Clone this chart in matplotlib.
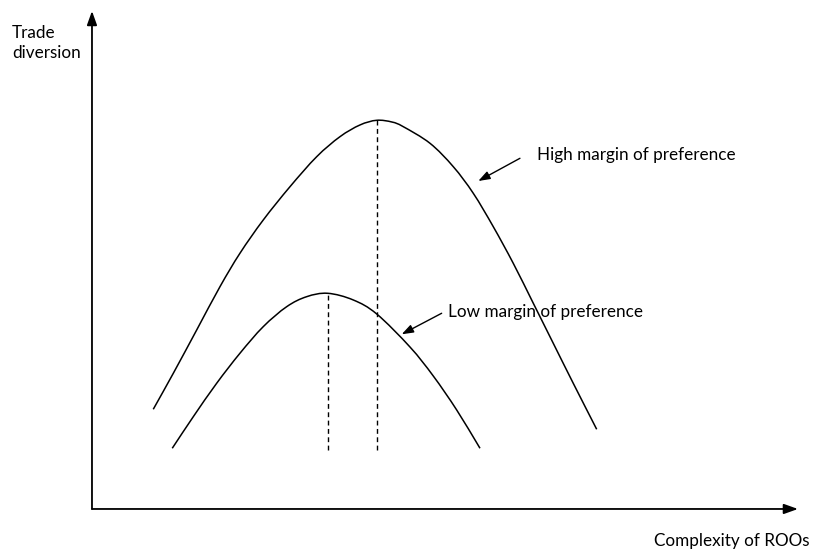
"""Schematic: trade diversion vs complexity of rules of origin."""

import numpy as np
import matplotlib
matplotlib.use("Agg")
import matplotlib.pyplot as plt
from matplotlib.path import Path
from matplotlib.patches import PathPatch

FONT = ["Lato", "DejaVu Sans"]
FS = 12.3

# high margin of preference curve (arbitrary units)
high_x = [0.868, 1.152, 1.483, 1.813, 2.096, 2.426, 2.805, 3.183, 3.513, 3.796,
          4.033, 4.25, 4.409, 4.788, 5.118, 5.401, 5.684, 5.967, 6.251, 6.534, 6.817, 7.149]
high_y = [2.002, 2.725, 3.594, 4.464, 5.135, 5.803, 6.472, 7.074, 7.476, 7.711,
          7.805, 7.77, 7.677, 7.343, 6.873, 6.339, 5.669, 4.934, 4.131, 3.327, 2.524, 1.600]

# low margin of preference curve
low_x = [1.137, 1.435, 1.766, 2.096, 2.426, 2.758, 3.041, 3.339, 3.701, 4.033,
         4.504, 4.834, 5.166, 5.496]
low_y = [1.219, 1.853, 2.524, 3.127, 3.661, 4.062, 4.263, 4.331, 4.197, 3.916,
         3.253, 2.671, 1.988, 1.219]

# dashed drop lines from each peak
peak_x = [3.339, 4.033]
peak_top = [4.331, 7.805]
drop_bottom = 1.185

labels = ["High margin of preference", "Low margin of preference"]
label_pos = [(6.303, 7.108), (5.047, 3.956)]
arrow_tail = [(6.062, 7.042), (4.953, 3.930)]
arrow_head = [(5.472, 6.586), (4.387, 3.508)]


def smooth_path(xs, ys):
    """Catmull-Rom curve through the given points, as cubic bezier segments."""
    pts = np.column_stack([xs, ys])
    ext = np.vstack([2 * pts[0] - pts[1], pts, 2 * pts[-1] - pts[-2]])
    verts = [pts[0]]
    codes = [Path.MOVETO]
    for i in range(1, len(ext) - 2):
        p0, p1, p2, p3 = ext[i - 1], ext[i], ext[i + 1], ext[i + 2]
        verts += [p1 + (p2 - p0) / 6, p2 - (p3 - p1) / 6, p2]
        codes += [Path.CURVE4] * 3
    return Path(verts, codes)


fig = plt.figure(figsize=(8.14, 5.49), dpi=100)
ax = fig.add_axes([0.1130, 0.0729, 0.8673, 0.9071])
ax.set_xlim(0, 10)
ax.set_ylim(0, 10)
ax.axis("off")

for xs, ys in [(high_x, high_y), (low_x, low_y)]:
    ax.add_patch(PathPatch(smooth_path(xs, ys), fill=False, edgecolor="black", lw=1.1))
for px, top in zip(peak_x, peak_top):
    ax.plot([px, px], [drop_bottom, top], color="black", lw=1.0, dashes=(3.5, 2.5))

arrow = dict(arrowstyle="-|>,head_length=0.7,head_width=0.25", color="black",
             lw=1.0, shrinkA=0, shrinkB=0, mutation_scale=10)
for text, pos, tail, head in zip(labels, label_pos, arrow_tail, arrow_head):
    ax.annotate("", xy=head, xytext=tail, arrowprops=arrow)
    ax.text(pos[0], pos[1], text, ha="left", va="center", fontsize=FS, family=FONT)

# axes with arrowheads
axis_arrow = dict(arrow, lw=1.3, mutation_scale=12)
ax.annotate("", xy=(0, 1), xytext=(0, 0), xycoords="axes fraction", arrowprops=axis_arrow)
ax.annotate("", xy=(1, 0), xytext=(0, 0), xycoords="axes fraction", arrowprops=axis_arrow)

fig.text(12 / 814, 1 - 43 / 549, "Trade\ndiversion", ha="left", va="center",
         fontsize=FS, family=FONT, linespacing=1.35)
fig.text(810 / 814, 1 - 541 / 549, "Complexity of ROOs", ha="right", va="center",
         fontsize=FS, family=FONT)

fig.savefig("out.png", dpi=100)
